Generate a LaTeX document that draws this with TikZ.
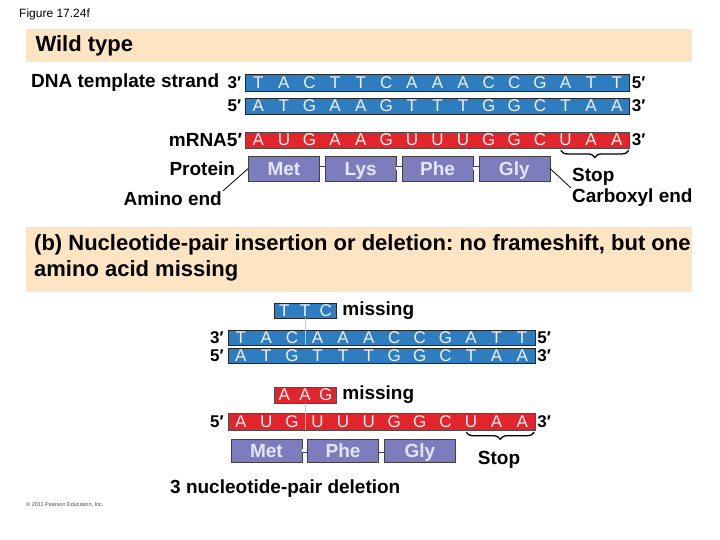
\documentclass[tikz,border=0pt]{standalone}
\usepackage{fontspec}
\setmainfont{Liberation Sans}
\frenchspacing
\usetikzlibrary{positioning, calc, decorations.pathreplacing}
\definecolor{bannerfill}{HTML}{FDE5C3}
\definecolor{dnablue}{HTML}{2E7DC0}
\definecolor{rnared}{HTML}{E2252C}
\definecolor{aapurple}{HTML}{7D7DBD}
\definecolor{gapline}{HTML}{EFC46E}
\tikzset{
    banner/.style={rectangle, fill=bannerfill, draw=none, minimum width=666, inner sep=0pt, anchor=north west},
    dnabar/.style={rectangle, fill=dnablue, draw=black!85, minimum height=16.5, inner sep=0pt},
    rnabar/.style={rectangle, fill=rnared, draw=black!70, minimum height=16.5, inner sep=0pt},
    dnabase/.style={text=blue!6, font=\fontsize{17}{17}\selectfont, inner sep=0pt},
    rnabase/.style={text=red!6, font=\fontsize{17}{17}\selectfont, inner sep=0pt},
    aabox/.style={rectangle, fill=aapurple, draw=black!75, minimum width=71, minimum height=25, inner sep=0pt, text=white!90!blue, font=\bfseries\fontsize{19}{19}\selectfont, text height=13.5, text depth=0},
    pepbond/.style={draw=black!75, double=white, double distance=2.4pt, line width=0.8pt},
    lbl/.style={font=\bfseries\fontsize{19}{22}\selectfont, inner sep=1pt},
    prime/.style={font=\bfseries\fontsize{17}{17}\selectfont, inner sep=1pt},
    stopbrace/.style={decorate, decoration={brace, mirror, amplitude=7pt}, line width=1.3pt},
    gapmark/.style={draw=gapline, line width=1pt}
}
\begin{document}
\begin{tikzpicture}[x=1pt, y=-1pt, >=stealth]
    \useasboundingbox (0,0) rectangle (720,540);
    \node (fig) [anchor=west, font=\fontsize{12}{12}\selectfont, inner sep=0pt] at (19,14) {Figure 17.24f};

    % (a) Wild type
    \node (bannerA) [banner, minimum height=33] at (26,29) {};
    \node (wild) [anchor=west, font=\bfseries\fontsize{22}{22}\selectfont] at (32,46) {Wild type};

    \node (dnaA1) [dnabar, minimum width=384] at (437.5,82.5) {};
    \node (dnaA2) [dnabar, minimum width=384] at (437.5,106) {};
    \node (mrnaA) [rnabar, minimum width=384] at (437.5,140) {};
    \foreach \b [count=\i] in {T,A,C,T,T,C,A,A,A,C,C,G,A,T,T}
        \node[dnabase] at ({245.5+25.6*(\i-0.5)},82.5) {\b};
    \foreach \b [count=\i] in {A,T,G,A,A,G,T,T,T,G,G,C,T,A,A}
        \node[dnabase] at ({245.5+25.6*(\i-0.5)},106) {\b};
    \foreach \b [count=\i] in {A,U,G,A,A,G,U,U,U,G,G,C,U,A,A}
        \node[rnabase] at ({245.5+25.6*(\i-0.5)},140) {\b};

    \node (p3A1) [prime, left=3pt of dnaA1] {3′};
    \node (tmpl) [lbl, left=6pt of p3A1] {DNA template strand};
    \node (p5A1) [prime, right=1pt of dnaA1] {5′};
    \node (p5A2) [prime, left=3pt of dnaA2] {5′};
    \node (p3A2) [prime, right=1pt of dnaA2] {3′};
    \node (mrnalbl) [lbl, left=2pt of mrnaA] {mRNA5′};
    \node (p3A3) [prime, right=1pt of mrnaA] {3′};

    \foreach \aa/\nm [count=\i] in {Met/metA, Lys/lysA, Phe/pheA, Gly/glyA}
        \node (\nm) [aabox] at ({245.5+76.8*(\i-0.5)},168.5) {\aa};
    \draw[pepbond] (metA) -- (lysA);
    \draw[pepbond] (lysA) -- (pheA);
    \draw[pepbond] (pheA) -- (glyA);
    \node (protlbl) [lbl, left=12pt of metA] {Protein};

    \node (aminoA) [lbl, anchor=east] at (223,199) {Amino end};
    \draw[thick] (aminoA.north east) -- (metA.west);

    \coordinate (stopAL) at ($(mrnaA.south east)+(-69,2)$);
    \coordinate (stopAR) at ($(mrnaA.south east)+(-1,2)$);
    \draw[stopbrace] (stopAL) -- (stopAR);
    \node (stopA) [lbl, anchor=west] at (571,177) {Stop};
    \node (carbA) [lbl, anchor=west] at (571,198) {Carboxyl end};
    \draw[thick] (glyA.east) -- (carbA.north west);

    % (b) deletion of three pairs
    \node (bannerB) [banner, minimum height=65] at (26,227) {};
    \node (headB) [anchor=north west, align=left, inner sep=0pt, font=\bfseries\fontsize{22}{26}\selectfont] at (34,234) {(b) Nucleotide-pair insertion or deletion: no frameshift, but one\\amino acid missing};

    \node (ttc) [dnabar, minimum width=62, minimum height=15.5] at (305,310.5) {};
    \foreach \b [count=\i] in {T,T,C}
        \node[dnabase] at ({274+20.7*(\i-0.5)},310.5) {\b};
    \node (missB1) [lbl, right=5pt of ttc] {missing};

    \node (dnaB1) [dnabar, minimum width=307, minimum height=15.5] at (381.5,337.5) {};
    \node (dnaB2) [dnabar, minimum width=307, minimum height=15.5] at (381.5,355.5) {};
    \foreach \b [count=\i] in {T,A,C,A,A,A,C,C,G,A,T,T}
        \node[dnabase] at ({228+25.58*(\i-0.5)},337.5) {\b};
    \foreach \b [count=\i] in {A,T,G,T,T,T,G,G,C,T,A,A}
        \node[dnabase] at ({228+25.58*(\i-0.5)},355.5) {\b};
    \draw[gapmark] (ttc.south) -- (ttc.south |- dnaB1.south);
    \node (p3B1) [prime, left=3pt of dnaB1] {3′};
    \node (p5B1) [prime, right=1pt of dnaB1] {5′};
    \node (p5B2) [prime, left=3pt of dnaB2] {5′};
    \node (p3B2) [prime, right=1pt of dnaB2] {3′};

    \node (aag) [rnabar, minimum width=62, minimum height=16] at (305,395) {};
    \foreach \b [count=\i] in {A,A,G}
        \node[rnabase] at ({274+20.7*(\i-0.5)},395) {\b};
    \node (missB2) [lbl, right=5pt of aag] {missing};

    \node (mrnaB) [rnabar, minimum width=307, minimum height=17] at (381.5,421.5) {};
    \foreach \b [count=\i] in {A,U,G,U,U,U,G,G,C,U,A,A}
        \node[rnabase] at ({228+25.58*(\i-0.5)},421.5) {\b};
    \draw[gapmark] (aag.south) -- (aag.south |- mrnaB.south);
    \node (p5B3) [prime, left=3pt of mrnaB] {5′};
    \node (p3B3) [prime, right=1pt of mrnaB] {3′};

    \foreach \aa/\nm [count=\i] in {Met/metB, Phe/pheB, Gly/glyB}
        \node (\nm) [aabox, minimum height=23] at ({228+76.75*(\i-0.5)},450.5) {\aa};
    \draw[pepbond] (metB) -- (pheB);
    \draw[pepbond] (pheB) -- (glyB);

    \coordinate (stopBL) at ($(mrnaB.south east)+(-69,2)$);
    \coordinate (stopBR) at ($(mrnaB.south east)+(-1,2)$);
    \draw[stopbrace] (stopBL) -- (stopBR);
    \node (stopB) [lbl] at (499,460) {Stop};

    \node (delB) [lbl, anchor=west] at (169,489) {3 nucleotide-pair deletion};
    \node (copy) [anchor=west, inner sep=0pt, text=black!70, font=\fontsize{5.5}{6}\selectfont] at (26,505) {\textcopyright{} 2011 Pearson Education, Inc.};
\end{tikzpicture}
\end{document}
